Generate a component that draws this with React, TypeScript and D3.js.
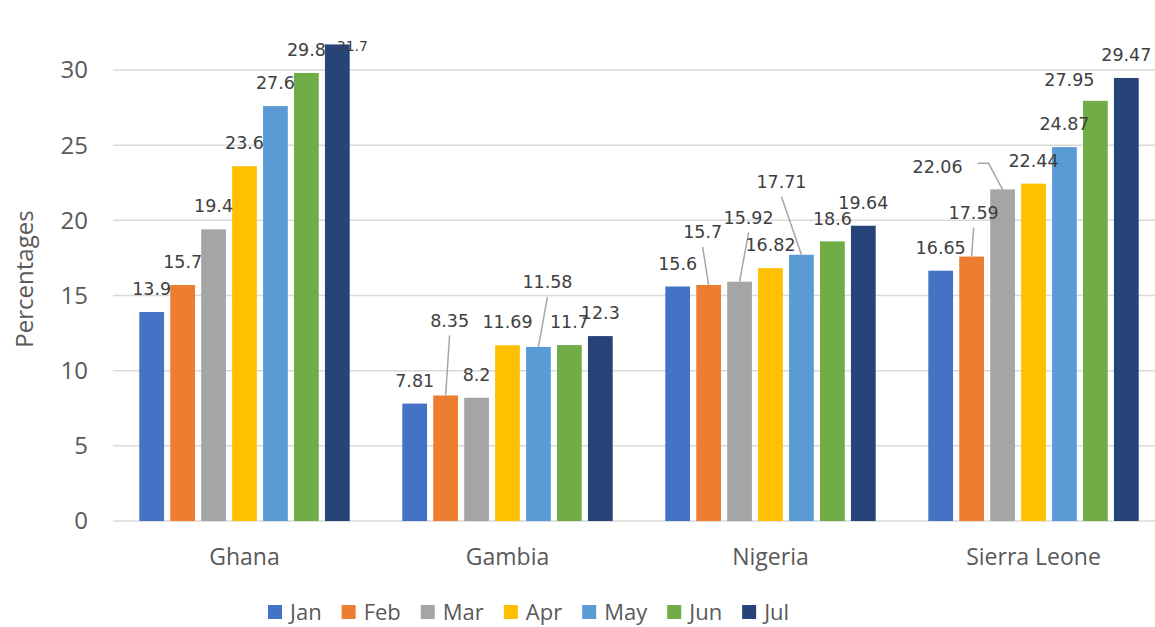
import React, { useEffect, useRef } from 'react';
import * as d3 from 'd3';

const countries = ['Ghana', 'Gambia', 'Nigeria', 'Sierra Leone'];
const months = ['Jan', 'Feb', 'Mar', 'Apr', 'May', 'Jun', 'Jul'];

const janValues = [13.9, 7.81, 15.6, 16.65];
const febValues = [15.7, 8.35, 15.7, 17.59];
const marValues = [19.4, 8.2, 15.92, 22.06];
const aprValues = [23.6, 11.69, 16.82, 22.44];
const mayValues = [27.6, 11.58, 17.71, 24.87];
const junValues = [29.8, 11.7, 18.6, 27.95];
const julValues = [31.7, 12.3, 19.64, 29.47];

const seriesValues = [janValues, febValues, marValues, aprValues, mayValues, junValues, julValues];
const monthColors = ['#4472C4', '#ED7D31', '#A5A5A5', '#FFC000', '#5B9BD5', '#70AD47', '#264478'];
const yTicks = [0, 5, 10, 15, 20, 25, 30];

// labels that were dragged away from their bar (offsets of label centre from bar top)
const movedLabels: Record<string, { dx: number; dy: number; leader?: string; size?: number }> = {
  'Ghana|Jul': { dx: 15, dy: 2, size: 14 },
  'Gambia|Feb': { dx: 4, dy: -75, leader: 'line' },
  'Gambia|May': { dx: 9, dy: -65, leader: 'line' },
  'Nigeria|Feb': { dx: -6, dy: -53, leader: 'line' },
  'Nigeria|Mar': { dx: 9, dy: -64, leader: 'line' },
  'Nigeria|May': { dx: -20, dy: -73, leader: 'line' },
  'Sierra Leone|Feb': { dx: 2, dy: -44, leader: 'line' },
  'Sierra Leone|Mar': { dx: -65, dy: -22, leader: 'elbow' },
  'Sierra Leone|Jun': { dx: -26, dy: -21 },
};

const App = () => {
  const svgRef = useRef<SVGSVGElement>(null);

  useEffect(() => {
    const svg = d3.select(svgRef.current).attr('width', 1155).attr('height', 627);
    svg.selectAll('*').remove();

    const left = 113;
    const right = 1165;
    const x0 = d3.scaleBand().domain(countries).range([left, right]).paddingInner(0.2).paddingOuter(0.1);
    const x1 = d3.scaleBand().domain(months).range([0, x0.bandwidth()]).padding(0.2).paddingOuter(0);
    const y = d3.scaleLinear().domain([0, 30]).range([521, 70]);

    const axisFont = '"Open Sans", sans-serif';
    const labelFont = '"DejaVu Sans", sans-serif';

    // gridlines
    svg.append('g')
      .selectAll('line')
      .data(yTicks)
      .enter().append('line')
      .attr('x1', left)
      .attr('x2', 1155)
      .attr('y1', d => y(d))
      .attr('y2', d => y(d))
      .attr('stroke', '#d9d9d9')
      .attr('stroke-width', 1.5);

    svg.append('g')
      .selectAll('text')
      .data(yTicks)
      .enter().append('text')
      .attr('x', 88)
      .attr('y', d => y(d))
      .attr('dy', '0.35em')
      .attr('text-anchor', 'end')
      .attr('font-family', axisFont)
      .attr('font-size', 24)
      .attr('fill', '#595959')
      .text(d => d);

    svg.append('text')
      .attr('transform', `translate(33,279) rotate(-90)`)
      .attr('text-anchor', 'middle')
      .attr('font-family', axisFont)
      .attr('font-size', 24)
      .attr('fill', '#595959')
      .text('Percentages');

    const bars: any[] = [];
    countries.forEach((c, ci) => {
      months.forEach((m, mi) => {
        bars.push({ country: c, month: m, mi, value: seriesValues[mi][ci] });
      });
    });

    const barX = (d: any) => (x0(d.country) as number) + (x1(d.month) as number);

    svg.append('g')
      .selectAll('rect')
      .data(bars)
      .enter().append('rect')
      .attr('x', d => barX(d))
      .attr('y', d => y(d.value))
      .attr('width', x1.bandwidth())
      .attr('height', d => y(0) - y(d.value))
      .attr('fill', d => monthColors[d.mi]);

    // leader lines
    const leaders = svg.append('g');
    bars.forEach(d => {
      const mv = movedLabels[`${d.country}|${d.month}`];
      if (!mv || !mv.leader) return;
      const bx = barX(d) + x1.bandwidth() / 2;
      const top = y(d.value);
      const lx = bx + mv.dx;
      const ly = top + mv.dy;
      let pts: [number, number][];
      if (mv.leader === 'elbow') {
        pts = [[lx + 40, ly - 4], [lx + 51, ly - 4], [bx, top]];
      } else {
        pts = [[lx, ly + 15], [bx, top]];
      }
      leaders.append('path')
        .attr('d', d3.line()(pts))
        .attr('fill', 'none')
        .attr('stroke', '#a6a6a6')
        .attr('stroke-width', 1.5);
    });

    svg.append('g')
      .selectAll('text')
      .data(bars)
      .enter().append('text')
      .attr('x', d => {
        const mv = movedLabels[`${d.country}|${d.month}`];
        return barX(d) + x1.bandwidth() / 2 + (mv ? mv.dx : 0);
      })
      .attr('y', d => {
        const mv = movedLabels[`${d.country}|${d.month}`];
        return y(d.value) + (mv ? mv.dy : -23);
      })
      .attr('dy', '0.35em')
      .attr('text-anchor', 'middle')
      .attr('font-family', labelFont)
      .attr('font-size', d => {
        const mv = movedLabels[`${d.country}|${d.month}`];
        return mv && mv.size ? mv.size : 17.5;
      })
      .attr('fill', '#404040')
      .text(d => d.value);

    // category labels
    svg.append('g')
      .selectAll('text')
      .data(countries)
      .enter().append('text')
      .attr('x', d => (x0(d) as number) + x0.bandwidth() / 2)
      .attr('y', 557)
      .attr('dy', '0.35em')
      .attr('text-anchor', 'middle')
      .attr('font-family', axisFont)
      .attr('font-size', 23)
      .attr('fill', '#595959')
      .text(d => d);

    // legend
    const legend = svg.append('g');
    let lx = 268;
    months.forEach((m, i) => {
      const g = legend.append('g').attr('transform', `translate(${lx},612)`);
      g.append('rect')
        .attr('x', 0)
        .attr('y', -7)
        .attr('width', 14)
        .attr('height', 14)
        .attr('fill', monthColors[i]);
      const t = g.append('text')
        .attr('x', 22)
        .attr('y', 0)
        .attr('dy', '0.35em')
        .attr('font-family', axisFont)
        .attr('font-size', 22)
        .attr('fill', '#595959')
        .text(m);
      const w = (t.node() as SVGTextElement).getComputedTextLength();
      lx += 22 + w + 20;
    });
  }, []);

  return (
    <div style={{ position: 'absolute', left: 0, top: 0 }}>
      <svg ref={svgRef} style={{ display: 'block', background: '#fff' }}></svg>
    </div>
  );
};

export default App;
